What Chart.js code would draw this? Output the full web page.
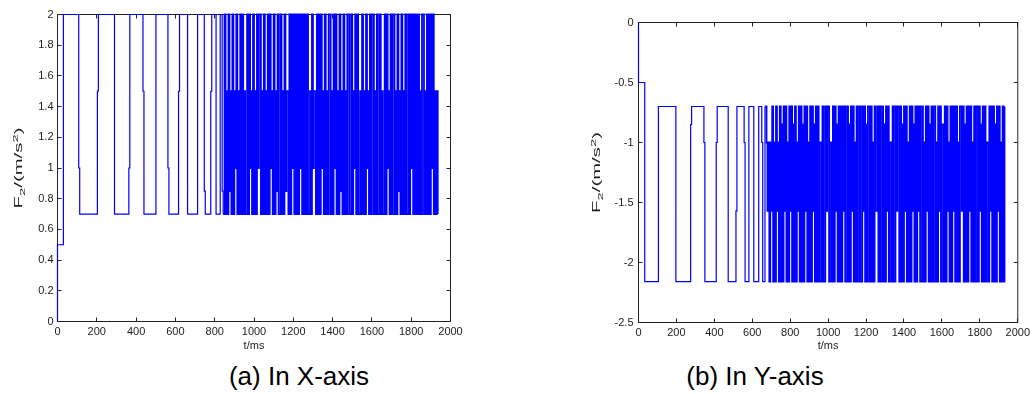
<!DOCTYPE html>
<html lang="en">
<head>
<meta charset="UTF-8">
<title>F2 switching signal</title>
<script src="https://cdn.jsdelivr.net/npm/chart.js"></script>
<style>
  body { margin: 0; background: #fff; width: 1034px; height: 394px; overflow: hidden; position: relative;
         font-family: "Liberation Sans", Arial, sans-serif; }
  canvas { position: absolute; top: 0; }
  #chartX { left: 0; }
  #chartY { left: 580px; }
  .caption { position: absolute; top: 363px; font-size: 26px; line-height: 26px; color: #000;
             white-space: nowrap; transform: translateX(-50%); }
</style>
</head>
<body>
<canvas id="chartX" width="470" height="360"></canvas>
<canvas id="chartY" width="454" height="360"></canvas>
<div class="caption" style="left:299px">(a) In X-axis</div>
<div class="caption" style="left:755px">(b) In Y-axis</div>

<script>
// X-axis channel: switching instants (ms) and levels before the dense part
const xAxisT = [0, 0, 30, 108, 113, 203, 208, 290, 363, 368,
                435, 440, 501, 562, 567, 616, 621, 662, 713, 747,
                752, 780, 785, 807, 828, 838, 843];
const xAxisF = [0, 0.5, 2, 1, 0.7, 1.5, 2, 0.7, 1, 2,
                1.5, 0.7, 2, 1, 0.7, 1.5, 2, 0.7, 2, 0.85,
                0.7, 1.5, 2, 0.7, 2, 0.85, 0.7];
// X-axis channel, one level per 5 ms sample from 850 ms
const xDenseStart = 850;
const xAxisDense = [
  2, 0.7, 1.5, 0.7, 2, 0.85, 1.5, 0.7, 2, 0.7, 1.5, 1, 2, 0.7, 1.5, 0.7, 2, 0.7, 2, 0.7,
  1.5, 0.7, 0.7, 2, 0.7, 2, 1, 1.5, 0.7, 2, 0.7, 1.5, 0.7, 2, 1, 2, 2, 0.7, 1.5, 0.7,
  2, 0.7, 1.5, 0.7, 2, 0.7, 2, 1, 1.5, 0.7, 2, 0.7, 1.5, 0.85, 2, 0.7, 0.7, 2, 0.7, 1.5,
  0.7, 2, 0.85, 1.5, 1.5, 0.7, 2, 0.7, 2, 1, 2, 0.7, 2, 0.7, 2, 0.7, 2, 1, 2, 0.7,
  2, 0.7, 2, 0.7, 2, 0.7, 0.7, 1.5, 0.7, 2, 1, 1.5, 1.5, 0.7, 2, 0.7, 2, 0.7, 2, 1,
  1.5, 0.7, 2, 0.7, 1.5, 0.7, 2, 2, 0.7, 1.5, 0.7, 2, 1, 2, 0.7, 1.5, 0.7, 2, 0.85, 1.5,
  0.7, 2, 0.7, 1.5, 0.7, 2, 2, 0.7, 0.7, 2, 0.7, 1.5, 1, 2, 0.7, 2, 0.7, 0.7, 1.5, 0.7,
  2, 0.7, 1.5, 0.7, 2, 1, 1.5, 0.7, 2, 0.7, 2, 2, 0.7, 1.5, 0.7, 2, 0.7, 0.7, 2, 0.7,
  1.5, 0.7, 0.7, 2, 0.7, 2, 1, 1.5, 0.7, 2, 0.7, 2, 2, 0.7, 1.5, 0.7, 2, 0.85, 1.5, 0.7,
  2, 0.7, 1.5, 0.7, 2, 0.7, 0.7, 2, 0.7, 2, 1, 2, 0.7, 2, 0.7, 2, 0.7, 2, 0.7, 1.5,
  0.7, 2, 2, 0.7, 1.5, 0.7, 2, 0.7, 2, 0.7, 2, 1, 2, 0.7, 1.5, 0.7, 1.5, 0.7
];

// Y-axis channel: switching instants (ms) and levels before the dense part
const yAxisT = [0, 0, 33, 105, 197, 275, 280, 345, 350, 410,
                415, 473, 514, 519, 557, 562, 582, 608, 634, 650,
                655, 667];
const yAxisF = [0, -0.5, -2.16, -0.7, -2.16, -0.85, -0.7, -1, -2.16, -1,
                -0.7, -2.16, -1.57, -0.7, -1, -2.16, -0.7, -2.16, -0.7, -1,
                -2.16, -0.7];
// Y-axis channel, one level per 5 ms sample from 675 ms
const yDenseStart = 675;
const yAxisDense = [
  -1, -1.57, -1, -2.16, -1, -1.57, -0.7, -2.16, -1, -2.16, -0.7, -1.57, -1, -2.16, -0.7, -2.16, -0.85, -2.16, -0.7, -1.57,
  -0.7, -2.16, -1, -2.16, -0.7, -1.57, -0.7, -2.16, -0.85, -2.16, -0.7, -2.16, -1, -1.57, -0.7, -2.16, -0.7, -2.16, -0.85, -2.16,
  -0.7, -1.57, -0.7, -2.16, -1, -2.16, -0.7, -2.16, -0.7, -1.57, -0.85, -2.16, -0.7, -2.16, -0.7, -2.16, -1, -1, -2.16, -0.7,
  -2.16, -2.16, -0.7, -1.57, -0.7, -0.7, -2.16, -1, -1, -2.16, -0.7, -2.16, -0.7, -1.57, -0.85, -2.16, -0.7, -2.16, -0.7, -2.16,
  -0.7, -1.57, -0.7, -2.16, -2.16, -0.7, -2.16, -0.85, -2.16, -0.7, -1.57, -0.7, -2.16, -1, -2.16, -0.7, -2.16, -2.16, -0.7, -2.16,
  -2.16, -0.7, -1.57, -0.7, -2.16, -0.85, -2.16, -0.7, -0.7, -2.16, -0.7, -2.16, -1, -2.16, -0.7, -1.57, -1.57, -0.7, -2.16, -0.7,
  -2.16, -2.16, -0.7, -2.16, -0.85, -2.16, -0.7, -1.57, -0.7, -2.16, -1, -1, -2.16, -0.7, -2.16, -2.16, -0.7, -1.57, -0.7, -0.7,
  -2.16, -0.7, -2.16, -0.85, -2.16, -0.7, -1.57, -0.7, -2.16, -1, -2.16, -0.7, -2.16, -0.7, -1.57, -0.85, -2.16, -0.7, -2.16, -0.7,
  -1.57, -0.7, -2.16, -2.16, -0.7, -2.16, -1, -2.16, -0.7, -1.57, -0.7, -2.16, -0.85, -2.16, -0.7, -2.16, -0.7, -0.7, -2.16, -1,
  -2.16, -0.7, -1.57, -0.7, -2.16, -0.85, -0.85, -2.16, -0.7, -2.16, -0.7, -1.57, -1, -2.16, -0.7, -2.16, -0.7, -1.57, -0.7, -2.16,
  -0.7, -2.16, -1, -2.16, -0.7, -0.7, -1.57, -0.7, -2.16, -0.85, -2.16, -0.7, -2.16, -0.7, -1.57, -0.7, -2.16, -1, -2.16, -0.7,
  -2.16, -0.7, -0.7, -2.16, -0.7, -1.57, -0.85, -2.16, -0.7, -2.16, -0.7, -2.16, -1, -1, -2.16, -0.7, -1.57, -0.7, -2.16, -0.7,
  -2.16, -0.85, -2.16, -0.7, -1.57, -0.7, -2.16, -1, -2.16, -0.7, -2.16, -0.7
];
const sampleMs = 5;

const tTicks = [0, 200, 400, 600, 800, 1000, 1200, 1400, 1600, 1800, 2000];
const fxTicks = [0, 0.2, 0.4, 0.6, 0.8, 1, 1.2, 1.4, 1.6, 1.8, 2];
const fyTicks = [-2.5, -2, -1.5, -1, -0.5, 0];

const FONT = '"Liberation Sans", Arial, sans-serif';
const INK = '#1c1c1c';
const BLUE = '#0000ff';

function sparsePoints(times, levels) {
  return times.map((t, i) => ({ x: t, y: levels[i] }));
}

// dense samples, starting from the last sparse switch so the join is drawn
function densePoints(times, levels, dense, start) {
  const last = times.length - 1;
  const pts = [{ x: times[last], y: levels[last] }];
  dense.forEach((v, i) => pts.push({ x: start + i * sampleMs, y: v }));
  return pts;
}

// rotated "F2/(m/s2)" with sub- and superscript, drawn tall like the export
function drawFLabel(ctx, cx, cy) {
  const big = '11px ' + FONT, small = '8px ' + FONT;
  const parts = [['F', big, 0], ['2', small, 3], ['/(m/s', big, 0], ['2', small, -4], [')', big, 0]];
  const stretch = 1.85;
  let w = 0;
  parts.forEach(p => { ctx.font = p[1]; w += ctx.measureText(p[0]).width; });
  ctx.save();
  ctx.translate(cx, cy);
  ctx.rotate(-Math.PI / 2);
  ctx.scale(stretch, 1);
  ctx.textAlign = 'left';
  ctx.textBaseline = 'alphabetic';
  let pos = -w / 2;
  parts.forEach(p => {
    ctx.font = p[1];
    ctx.fillText(p[0], pos, 4 + p[2]);
    pos += ctx.measureText(p[0]).width;
  });
  ctx.restore();
}

// box, inward ticks on all four sides, axis titles
function framePlugin(labelX) {
  return {
    id: 'frame',
    beforeDatasetsDraw(chart) {
      const { ctx, chartArea: a, scales: { x, y } } = chart;
      ctx.save();
      ctx.strokeStyle = '#222';
      ctx.lineWidth = 1;
      ctx.strokeRect(a.left, a.top, a.right - a.left, a.bottom - a.top);
      ctx.beginPath();
      x.ticks.forEach(t => {
        const px = Math.floor(x.getPixelForValue(t.value)) + 0.5;
        ctx.moveTo(px, a.bottom); ctx.lineTo(px, a.bottom - 4);
        ctx.moveTo(px, a.top); ctx.lineTo(px, a.top + 4);
      });
      y.ticks.forEach(t => {
        const py = Math.floor(y.getPixelForValue(t.value)) + 0.5;
        ctx.moveTo(a.left, py); ctx.lineTo(a.left + 4, py);
        ctx.moveTo(a.right, py); ctx.lineTo(a.right - 4, py);
      });
      ctx.stroke();
      ctx.fillStyle = INK;
      ctx.font = '11px ' + FONT;
      ctx.textAlign = 'center';
      ctx.textBaseline = 'middle';
      ctx.fillText('t/ms', (a.left + a.right) / 2, 346);
      drawFLabel(ctx, labelX, (a.top + a.bottom) / 2);
      ctx.restore();
    }
  };
}

function makeChart(id, sparse, dense, fTicks, cfg) {
  const tickFont = { family: FONT, size: 11 };
  const line = { borderColor: BLUE, pointRadius: 0, stepped: true, fill: false, clip: false };
  return new Chart(document.getElementById(id), {
    type: 'line',
    data: {
      datasets: [
        Object.assign({ data: sparse, borderWidth: 1.2 }, line),
        Object.assign({ data: dense, borderWidth: 1.8 }, line)
      ]
    },
    options: {
      responsive: false,
      animation: false,
      events: [],
      layout: { padding: cfg.padding },
      plugins: { legend: { display: false }, tooltip: { enabled: false } },
      scales: {
        x: {
          type: 'linear', min: 0, max: 2000,
          afterBuildTicks: s => { s.ticks = tTicks.map(v => ({ value: v })); },
          afterFit: s => { s.height = cfg.xHeight; },
          grid: { display: false, drawTicks: false },
          border: { display: false },
          ticks: { padding: 4, autoSkip: false, maxRotation: 0, color: INK, font: tickFont,
                   callback: v => String(v) }
        },
        y: {
          type: 'linear', min: fTicks[0], max: fTicks[fTicks.length - 1],
          afterBuildTicks: s => { s.ticks = fTicks.map(v => ({ value: v })); },
          afterFit: s => { s.width = cfg.yWidth; },
          grid: { display: false, drawTicks: false },
          border: { display: false },
          ticks: { padding: cfg.yPad, autoSkip: false, color: INK, font: tickFont,
                   callback: v => String(v) }
        }
      }
    },
    plugins: [framePlugin(cfg.labelX)]
  });
}

makeChart('chartX',
  sparsePoints(xAxisT, xAxisF),
  densePoints(xAxisT, xAxisF, xAxisDense, xDenseStart),
  fxTicks, {
    padding: { left: 0, top: 14.5, right: 19.5, bottom: 0 },
    xHeight: 38.5, yWidth: 57.5, yPad: 4, labelX: 18
  });

makeChart('chartY',
  sparsePoints(yAxisT, yAxisF),
  densePoints(yAxisT, yAxisF, yAxisDense, yDenseStart),
  fyTicks, {
    padding: { left: 0, top: 22.5, right: 13.5, bottom: 0 },
    xHeight: 37.5, yWidth: 58.5, yPad: 5, labelX: 16
  });
</script>
</body>
</html>
